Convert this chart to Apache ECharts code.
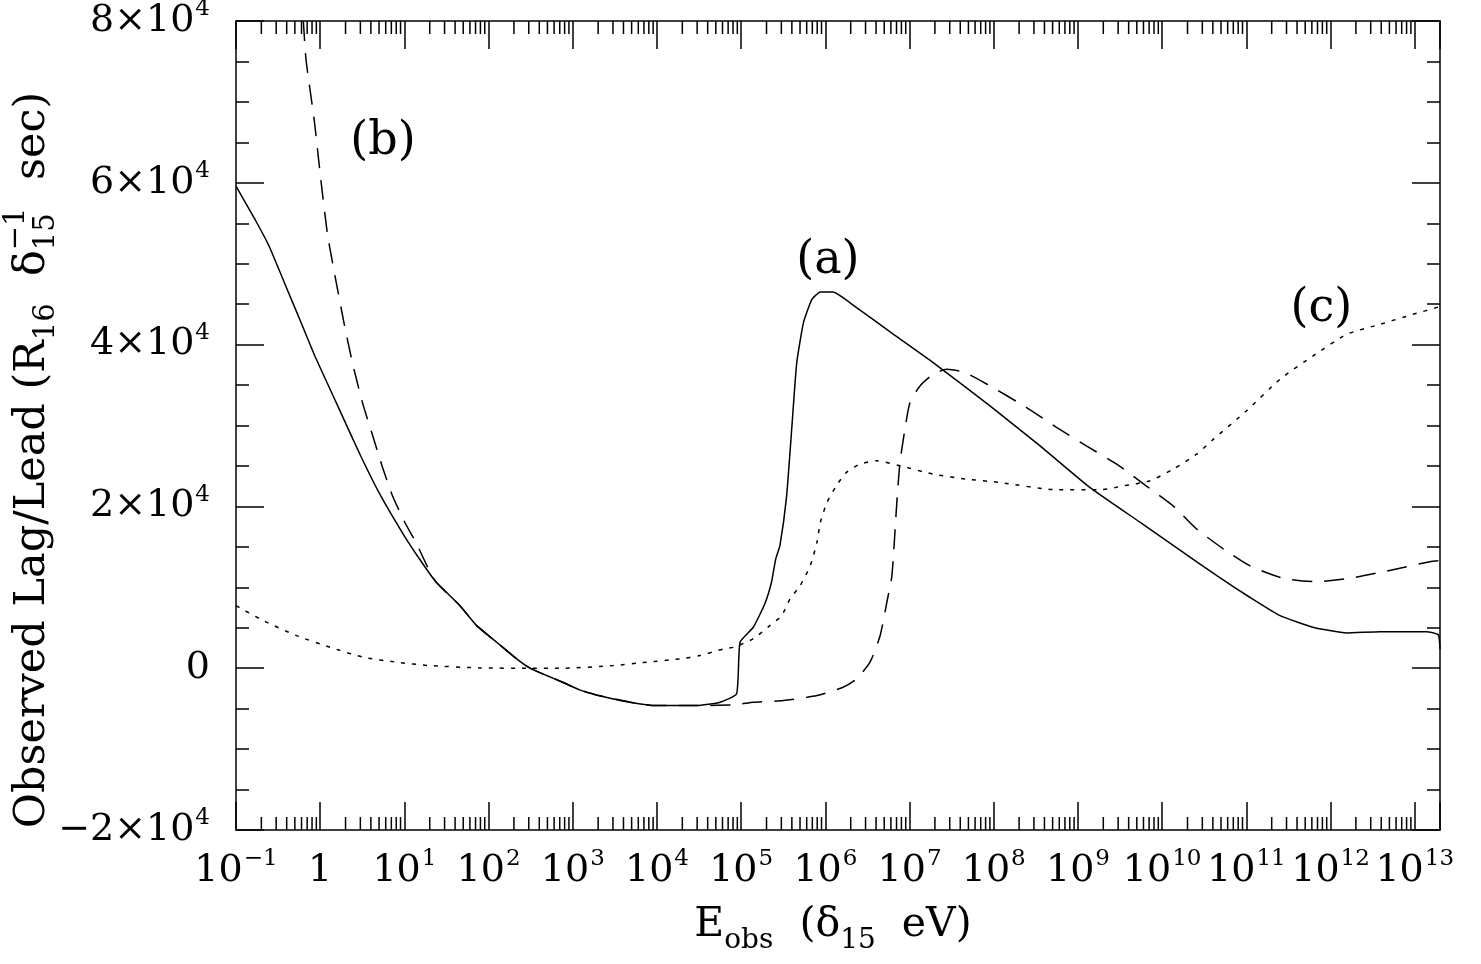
<!DOCTYPE html>
<html>
<head>
<meta charset="utf-8">
<title>Observed Lag/Lead</title>
<script src="https://cdn.jsdelivr.net/npm/echarts@6/dist/echarts.min.js"></script>
<style>
  html, body { margin: 0; padding: 0; background: #fff; }
  #chart { width: 1481px; height: 964px; }
</style>
</head>
<body>
<div id="chart"></div>
<script>
// x is log10(E_obs), the axis is drawn in decades
const xMin = -1
const xMax = 13.3
const yMin = -20000
const yMax = 80000

// (a) solid
const aExp = [-1, -0.766, -0.609, -0.414, -0.219, -0.062, 0.172, 0.25, 0.484, 0.718, 0.993, 1.188, 1.363,
  1.66, 1.859, 2.096, 2.334, 2.492, 2.69, 2.88, 3.08, 3.28, 3.68, 3.99, 4.47, 4.75, 4.946,
  4.986, 5.144, 5.28, 5.36, 5.41, 5.46, 5.54, 5.6, 5.66, 5.74, 5.84, 5.94, 6.09, 6.37, 6.81,
  7.28, 7.955, 8.55, 9.14, 9.74, 10.25, 10.65, 11.04, 11.4, 11.79, 12.19, 12.59, 13.14, 13.28, 13.3]
const aVal = [59600, 55310, 52220, 47370, 42510, 38560, 33250, 31470, 26170, 21320, 16460, 13370, 10820,
  7730, 5260, 3210, 1150, 0, -910, -1730, -2680, -3300, -4200, -4620, -4620, -4200, -3170,
  3210, 5060, 7940, 10620, 13490, 15140, 21310, 29540, 37780, 42720, 45590, 46500, 46500, 44570, 41270,
  37780, 32420, 27480, 22350, 18020, 14320, 11430, 8770, 6490, 5060, 4360, 4520, 4520, 4110, 2380]

// (b) dashed
const bExp = [-0.2, -0.168, -0.07, 0.01, 0.088, 0.188, 0.286, 0.385, 0.503, 0.621, 0.74, 0.858, 1.017, 1.135,
  1.363, 1.66, 1.859, 2.096, 2.334, 2.492, 2.69, 2.88, 3.08, 3.28, 3.68, 3.99, 4.47, 4.946,
  5.144, 5.5, 5.9, 6.21, 6.37, 6.53, 6.65, 6.73, 6.79, 6.846, 6.886, 6.945, 7.005, 7.124, 7.28,
  7.44, 7.64, 7.92, 8.39, 8.75, 9.1, 9.46, 9.81, 10.13, 10.41, 10.73, 11.04, 11.44, 11.83, 12.23, 12.63, 13.18, 13.3]
const bVal = [80000, 75190, 67680, 60160, 53540, 47820, 42510, 37660, 32800, 28830, 24850, 21320, 17790, 15590,
  10820, 7730, 5260, 3210, 1150, 0, -910, -1730, -2680, -3300, -4200, -4620, -4620, -4500,
  -4200, -4000, -3380, -2350, -1320, 740, 4020, 8150, 11430, 20070, 25430, 29540, 32840, 34890, 36330,
  36950, 36620, 35100, 32220, 29750, 27480, 25220, 22540, 20070, 17200, 14730, 12670, 11110, 10690, 11110, 11930, 13160, 13300]

// (c) dotted
const cExp = [-1, -0.675, -0.28, 0.116, 0.51, 0.91, 1.3, 1.9, 2.49, 2.88, 3.48, 3.875, 4.27, 4.51, 4.79, 4.91,
  5.14, 5.34, 5.48, 5.58, 5.7, 5.82, 5.9, 5.94, 6.02, 6.13, 6.25, 6.41, 6.61, 6.89, 7.28, 7.68, 8.07,
  8.75, 9.26, 9.54, 9.855, 10.13, 10.41, 10.61, 11.0, 11.4, 11.79, 12.19, 12.59, 12.98, 13.3]
const cVal = [7730, 5880, 4020, 2590, 1360, 740, 320, 40, 0, 0, 320, 740, 1150, 1560, 2380, 2590,
  3620, 5260, 6490, 8560, 10200, 12670, 15560, 18020, 20500, 22540, 24200, 25220, 25630, 25010, 23990, 23370, 22960,
  22050, 22050, 22540, 23160, 24600, 26460, 28310, 31800, 35720, 38590, 41270, 42510, 43740, 44700]

// curve tags
const tagText = ['(a)', '(b)', '(c)']
const tagExp = [6.03, 0.746, 11.89]
const tagVal = [50300, 65000, 44370]

// minor ticks at 2..9 inside each decade
const minorExp = []
for (let n = Math.floor(xMin); n <= Math.ceil(xMax); n++) {
  for (let k = 2; k <= 9; k++) {
    const e = n + Math.log10(k)
    if (e > xMin && e < xMax) minorExp.push(e)
  }
}

const FONT = '"DejaVu Serif", "Liberation Serif", serif'
const zip = (xs, ys) => xs.map((x, i) => [x, ys[i]])

const supRich = {
  b: { fontFamily: FONT, fontSize: 38, color: '#000', verticalAlign: 'bottom', lineHeight: 38 },
  s: { fontFamily: FONT, fontSize: 23, color: '#000', verticalAlign: 'bottom', lineHeight: 23, padding: [0, 0, 19, 1] }
}

const xLabel = (v) => {
  if (Math.abs(v - Math.round(v)) > 1e-6) return ''
  v = Math.round(v)
  if (v === 0) return '{b|1}'
  return '{b|10}{s|' + (v < 0 ? '\u2212' + (-v) : v) + '}'
}
const yLabel = (v) => {
  if (v === 0) return '{b|0}'
  const m = v / 10000
  return '{b|' + (m < 0 ? '\u2212' + (-m) : m) + '\u00d710}{s|4}'
}

// y title: δ carries a stacked subscript / superscript, so lay it out piece by piece
const measure = (() => {
  const ctx = document.createElement('canvas').getContext('2d')
  return (txt, size) => { ctx.font = size + 'px ' + FONT; return ctx.measureText(txt).width }
})()
const buildYTitle = () => {
  const big = 43
  const small = 29
  const parts = []
  let x = 0
  // dy is the offset of each piece's middle line from the main text's middle line
  const put = (txt, size, dy) => {
    parts.push({
      type: 'text', x: x, y: dy,
      style: { text: txt, fontFamily: FONT, fontSize: size, fill: '#000', align: 'left', verticalAlign: 'middle' }
    })
    return measure(txt, size)
  }
  x += put('Observed Lag/Lead (R', big, 0)
  x += put('16', small, 13)
  x += put('  \u03b4', big, 0)
  const w1 = put('\u22121', small, -17)
  const w2 = put('15', small, 13)
  x += Math.max(w1, w2)
  x += put('  sec)', big, 0)
  parts.forEach((p) => { p.x -= x / 2 })
  return { type: 'group', x: 33, y: 460, rotation: Math.PI / 2, children: parts }
}

const axisLine = { show: true, onZero: false, lineStyle: { color: '#000', width: 1.5 } }
const majorTick = { show: true, inside: true, length: 28, lineStyle: { color: '#000', width: 1.5 } }
const minorTick = { show: true, splitNumber: 4, length: 13, lineStyle: { color: '#000', width: 1.5 } }

const chart = echarts.init(document.getElementById('chart'))

const option = {
  animation: false,
  backgroundColor: '#fff',
  grid: { left: 236, right: 41, top: 21, bottom: 134, containLabel: false, outerBoundsMode: 'none' },
  xAxis: [
    {
      type: 'value', min: xMin, max: xMax, interval: 1, position: 'bottom',
      axisLine: axisLine, axisTick: majorTick, splitLine: { show: false },
      axisLabel: { show: true, margin: 22, formatter: xLabel, rich: supRich }
    },
    {
      type: 'value', min: xMin, max: xMax, interval: 1, position: 'top',
      axisLine: axisLine, axisTick: majorTick, splitLine: { show: false },
      axisLabel: { show: false }
    }
  ],
  yAxis: [
    {
      type: 'value', min: yMin, max: yMax, interval: 20000, position: 'left',
      axisLine: axisLine, axisTick: majorTick, splitLine: { show: false },
      minorTick: minorTick, minorSplitLine: { show: false },
      axisLabel: { show: true, margin: 26, formatter: yLabel, rich: supRich }
    },
    {
      type: 'value', min: yMin, max: yMax, interval: 20000, position: 'right',
      axisLine: axisLine, axisTick: majorTick, splitLine: { show: false },
      minorTick: minorTick, minorSplitLine: { show: false },
      axisLabel: { show: false }
    }
  ],
  graphic: [
    buildYTitle(),
    {
      type: 'text', x: 833, y: 934,
      style: {
        text: '{t|E}{d|obs}{t|  (\u03b4}{d|15}{t|  eV)}',
        align: 'center', verticalAlign: 'middle',
        rich: {
          t: { fontFamily: FONT, fontSize: 41, lineHeight: 41, verticalAlign: 'bottom', padding: [0, 0, 9, 0], fill: '#000' },
          d: { fontFamily: FONT, fontSize: 28, lineHeight: 28, verticalAlign: 'bottom', fill: '#000' }
        }
      }
    }
  ],
  series: [
    {
      name: '(a)', type: 'line', data: zip(aExp, aVal), showSymbol: false, symbol: 'none', smooth: 0.15,
      lineStyle: { color: '#000', width: 1.5, type: 'solid' }, z: 3
    },
    {
      name: '(b)', type: 'line', data: zip(bExp, bVal), showSymbol: false, symbol: 'none', smooth: 0.2,
      lineStyle: { color: '#000', width: 1.5, type: [20, 12] }, z: 3
    },
    {
      name: '(c)', type: 'line', data: zip(cExp, cVal), showSymbol: false, symbol: 'none', smooth: 0.2,
      lineStyle: { color: '#000', width: 1.5, type: [4, 7] }, z: 3
    },
    {
      name: 'tags', type: 'scatter', symbolSize: 0, silent: true,
      data: tagText.map((t, i) => ({ value: [tagExp[i], tagVal[i]], name: t })),
      label: {
        show: true, position: 'inside', formatter: (p) => p.name,
        fontFamily: FONT, fontSize: 46, color: '#000', textBorderWidth: 0, opacity: 1
      }
    },
    {
      name: 'minorTicks', type: 'custom', silent: true, clip: false,
      data: minorExp.map((e) => [e, yMin]),
      encode: { x: 0, y: 1 },
      renderItem: function (params, api) {
        const p = api.coord([api.value(0), yMin])
        const top = params.coordSys.y
        const st = { stroke: '#000', lineWidth: 1.5 }
        return {
          type: 'group',
          children: [
            { type: 'line', shape: { x1: p[0], y1: p[1], x2: p[0], y2: p[1] - 13 }, style: st },
            { type: 'line', shape: { x1: p[0], y1: top, x2: p[0], y2: top + 13 }, style: st }
          ]
        }
      }
    }
  ]
}

chart.setOption(option)
</script>
</body>
</html>
